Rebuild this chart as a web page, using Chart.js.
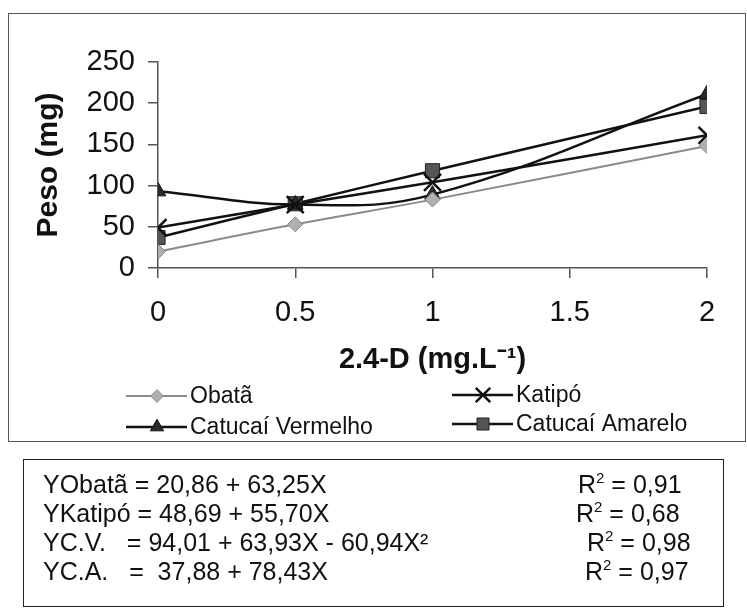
<!DOCTYPE html>
<html>
<head>
<meta charset="utf-8">
<script src="https://cdn.jsdelivr.net/npm/chart.js@4/dist/chart.umd.min.js"></script>
<style>
  body { margin: 0; background: #fff; }
  #wrap { position: relative; width: 747px; height: 608px; overflow: hidden; }
  #box1 { position: absolute; left: 8px; top: 13px; width: 736px; height: 427px; border: 1.5px solid #555; }
  #box2 { position: absolute; left: 23px; top: 459px; width: 699px; height: 146px; border: 1.5px solid #222; }
  canvas#grafico { position: absolute; left: 0; top: 0; }
  .eq { position: absolute; font-family: "Liberation Sans", Arial, sans-serif; font-size: 25px; color: #111; white-space: pre; line-height: 29px; }
  .eq sup { font-size: 15px; vertical-align: 10px; line-height: 0; }
</style>
</head>
<body>
<div id="wrap">
  <div id="box1"></div>
  <div id="box2"></div>
  <canvas id="grafico" width="747" height="608"></canvas>
  <div class="eq" id="eqLeft" style="left:43px; top:470px;"></div>
  <div class="eq" id="eqRight" style="left:0; top:470px;"></div>
</div>
<script>
// dados
const doses = [0, 0.5, 1, 2];
const obata = [20, 53, 83, 148];
const katipo = [49, 77, 104, 161];
const catVermelho = [93, 77, 89, 211];
const catAmarelo = [37, 78, 118, 196];
const nomes = ["Obatã", "Katipó", "Catucaí Vermelho", "Catucaí Amarelo"];
const xTicks = [0, 0.5, 1, 1.5, 2];
const yTicks = [0, 50, 100, 150, 200, 250];
const equacoes = [
    "YObatã = 20,86 + 63,25X",
    "YKatipó = 48,69 + 55,70X",
    "YC.V.   = 94,01 + 63,93X - 60,94X²",
    "YC.A.   =  37,88 + 78,43X"
];
const r2 = ["0,91", "0,68", "0,98", "0,97"];

const FONT = "'Liberation Sans', Arial, sans-serif";

// equations box (html text)
document.getElementById("eqLeft").innerHTML = equacoes.join("\n");
const r2Left = [578, 576, 587, 585];
document.getElementById("eqRight").innerHTML = r2.map((v, i) =>
    '<div style="margin-left:' + r2Left[i] + 'px">R<sup>2</sup> = ' + v + '</div>').join("");

function pts(vals) {
    return doses.map((x, i) => ({x: x, y: vals[i]}));
}

// legend drawn as line + marker like the original
const legendPos = [[126, 396], [452, 395], [126, 427], [452, 424]];
const legendaPlugin = {
    id: "legenda",
    afterDraw(chart) {
        const ctx = chart.ctx;
        ctx.save();
        chart.data.datasets.forEach(function(ds, i) {
            const [lx, ly] = legendPos[i];
            ctx.strokeStyle = ds.borderColor;
            ctx.lineWidth = ds.borderWidth;
            ctx.beginPath();
            ctx.moveTo(lx, ly);
            ctx.lineTo(lx + 61, ly);
            ctx.stroke();
            ctx.fillStyle = ds.pointBackgroundColor;
            ctx.strokeStyle = ds.pointBorderColor;
            ctx.lineWidth = ds.pointBorderWidth;
            Chart.helpers.drawPoint(ctx, {pointStyle: ds.pointStyle, radius: ds.pointRadius * 0.85, rotation: 0, borderWidth: ds.pointBorderWidth}, lx + 31, ly);
            ctx.fillStyle = "#111";
            ctx.font = "23px " + FONT;
            ctx.textBaseline = "middle";
            ctx.textAlign = "left";
            ctx.fillText(ds.label, lx + 64, ly + 1);
        });
        ctx.restore();
    }
};

new Chart("grafico", {
    type: "line",
    data: {
        datasets: [{
            label: nomes[0],
            data: pts(obata),
            borderColor: "#8a8a8a",
            borderWidth: 2,
            pointStyle: "rectRot",
            pointRadius: 7.5,
            pointBackgroundColor: "#b0b0b0",
            pointBorderColor: "#8a8a8a",
            pointBorderWidth: 1
        },{
            label: nomes[1],
            data: pts(katipo),
            borderColor: "#111",
            borderWidth: 2.5,
            pointStyle: "crossRot",
            pointRadius: 12,
            pointBackgroundColor: "#111",
            pointBorderColor: "#111",
            pointBorderWidth: 2.5
        },{
            label: nomes[2],
            data: pts(catVermelho),
            borderColor: "#111",
            borderWidth: 2.5,
            pointStyle: "triangle",
            pointRadius: 9,
            pointBackgroundColor: "#2a2a2a",
            pointBorderColor: "#111",
            pointBorderWidth: 1
        },{
            label: nomes[3],
            data: pts(catAmarelo),
            borderColor: "#111",
            borderWidth: 2.5,
            pointStyle: "rect",
            pointRadius: 10,
            pointBackgroundColor: "#555",
            pointBorderColor: "#222",
            pointBorderWidth: 1
        }]
    },
    options: {
        responsive: false,
        animation: false,
        tension: 0.4,
        layout: { padding: { left: 0, right: 40, top: 62, bottom: 228 } },
        plugins: { legend: { display: false }, tooltip: { enabled: false } },
        scales: {
            x: {
                type: "linear",
                min: 0, max: 2,
                afterBuildTicks: function(scale) { scale.ticks = xTicks.map(v => ({value: v})); },
                afterFit: function(scale) { scale.height = 112; },
                grid: { drawOnChartArea: false, drawTicks: true, tickLength: 10, color: "#555", lineWidth: 1.5 },
                border: { color: "#555", width: 1.5 },
                ticks: {
                    padding: 18,
                    color: "#111",
                    font: { family: FONT, size: 29 },
                    callback: function(value) { return String(value); }
                },
                title: {
                    display: true,
                    text: "2.4-D (mg.L⁻¹)",
                    color: "#111",
                    font: { family: FONT, size: 29, weight: "bold" },
                    padding: { top: 0, bottom: 3 }
                }
            },
            y: {
                min: 0, max: 250,
                afterBuildTicks: function(scale) { scale.ticks = yTicks.map(v => ({value: v})); },
                afterFit: function(scale) { scale.width = 158; },
                grid: { drawOnChartArea: false, drawTicks: true, tickLength: 10, color: "#555", lineWidth: 1.5 },
                border: { color: "#555", width: 1.5 },
                ticks: {
                    padding: 13,
                    color: "#111",
                    font: { family: FONT, size: 29 }
                },
                title: {
                    display: true,
                    text: "Peso (mg)",
                    color: "#111",
                    font: { family: FONT, size: 30, weight: "bold" },
                    padding: { top: 31, bottom: 0 }
                }
            }
        }
    },
    plugins: [legendaPlugin]
});
</script>
</body>
</html>
